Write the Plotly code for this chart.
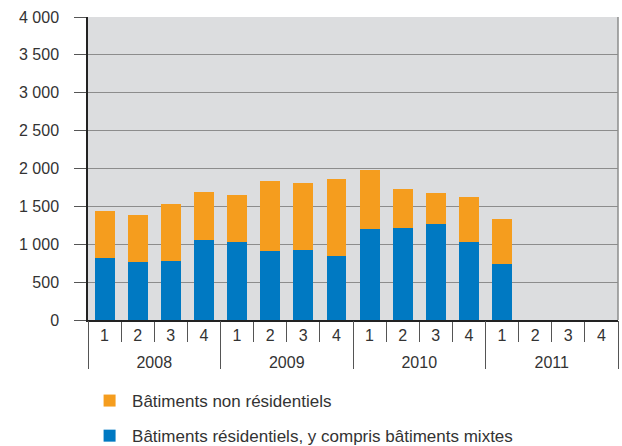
import plotly.graph_objects as go

years = ["2008", "2009", "2010", "2011"]
quarters = ["1", "2", "3", "4"] * 4
residentiels = [824, 767, 780, 1057, 1031, 912, 925, 846, 1203, 1216, 1269, 1031, 740, None, None, None]
totals = [1440, 1388, 1533, 1692, 1652, 1837, 1811, 1863, 1982, 1731, 1678, 1626, 1335, None, None, None]
non_residentiels = [t - r if t is not None else None for t, r in zip(totals, residentiels)]
y_tickvals = [0, 500, 1000, 1500, 2000, 2500, 3000, 3500, 4000]
y_ticktext = ["0", "500", "1 000", "1 500", "2 000", "2 500", "3 000", "3 500", "4 000"]

BLUE = "#0079C2"
ORANGE = "#F59D1E"
TXT = "#333333"
TICK = "#555555"
FONT = "Liberation Sans, Arial, sans-serif"

n = len(quarters)
xpos = list(range(n))
per_year = n // len(years)
xrange_ = [-0.5, n - 0.5]
quarter_bounds = [i - 0.5 for i in range(n + 1)]
year_bounds = [i * per_year - 0.5 for i in range(len(years) + 1)]
year_centers = [i * per_year + (per_year - 1) / 2 for i in range(len(years))]

fig = go.Figure()
fig.add_trace(go.Bar(x=xpos, y=residentiels, name="Bâtiments résidentiels, y compris bâtiments mixtes",
                     marker=dict(color=BLUE, line=dict(width=0)), legendgroup="b", legendrank=2))
fig.add_trace(go.Bar(x=xpos, y=non_residentiels, name="Bâtiments non résidentiels",
                     marker=dict(color=ORANGE, line=dict(width=0)), legendgroup="a", legendrank=1))
# empty helper trace so the year axis (x2) gets drawn
fig.add_trace(go.Scatter(x=year_centers, y=[None] * len(years), xaxis="x2", yaxis="y",
                         mode="markers", showlegend=False, hoverinfo="skip"))

fig.update_layout(
    width=622, height=446,
    barmode="stack", bargap=0.4,
    margin=dict(l=88, r=4, t=17, b=126, autoexpand=False),
    paper_bgcolor="white", plot_bgcolor="#DCDDDF",
    font=dict(family=FONT, size=16, color=TXT),
    showlegend=True,
    legend=dict(xref="container", yref="container", x=0.14, y=1 - 383 / 446, xanchor="left", yanchor="top",
                traceorder="grouped", tracegroupgap=10, itemwidth=35,
                font=dict(size=17, color=TXT), bgcolor="rgba(0,0,0,0)"),
    xaxis=dict(range=xrange_, automargin=False, showline=True, linecolor="#222", linewidth=1.5,
               tickvals=xpos, ticktext=quarters, ticks="", showgrid=False, zeroline=False,
               tickfont=dict(size=16, color=TXT),
               minor=dict(tickvals=quarter_bounds, ticks="outside", ticklen=20, tickcolor=TICK,
                          tickwidth=1, showgrid=False)),
    xaxis2=dict(range=xrange_, overlaying="x", anchor="y", side="bottom", automargin=False,
                showline=False, showgrid=False, zeroline=False,
                tickvals=year_centers, ticktext=years, ticks="", ticklabelstandoff=31,
                tickfont=dict(size=16, color=TXT),
                minor=dict(tickvals=year_bounds, ticks="outside", ticklen=48, tickcolor=TICK,
                           tickwidth=1, showgrid=False)),
    yaxis=dict(range=[0, 4000], automargin=False, tickvals=y_tickvals, ticktext=y_ticktext,
               showline=True, linecolor="#222", linewidth=1.5, ticks="outside", ticklen=12,
               tickcolor=TICK, showgrid=True, gridcolor="#8C8C8C", gridwidth=1.3,
               zeroline=False, ticklabelstandoff=12, tickfont=dict(size=16, color=TXT)),
    shapes=[dict(type="line", xref="paper", yref="paper", x0=1, x1=1, y0=0, y1=1,
                 line=dict(color="#8C8C8C", width=1.5))],
)

fig.write_html("out.html", config={"displayModeBar": False},
               post_script="document.body.style.margin='0';document.body.style.overflow='hidden';")
